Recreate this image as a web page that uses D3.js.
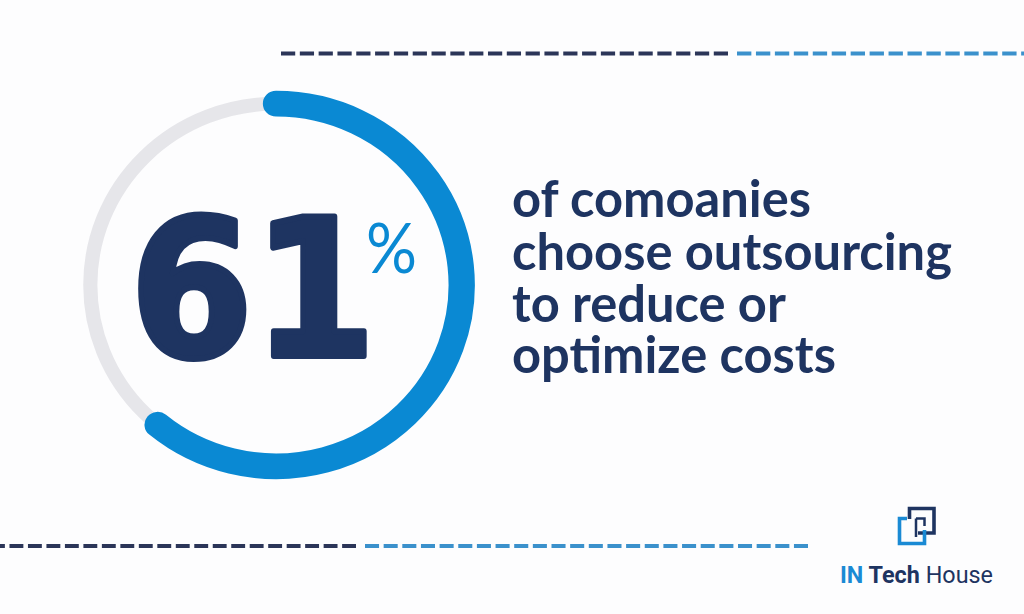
<!DOCTYPE html>
<html>
<head>
<meta charset="utf-8">
<script src="https://cdn.jsdelivr.net/npm/d3@7"></script>
<style>
  html, body { margin: 0; padding: 0; background: #fdfdfe; }
  svg { display: block; }
</style>
</head>
<body>
<svg id="chart" width="1024" height="614"></svg>
<script>
// ---- data ----
const categories = ["choose outsourcing to reduce or optimize costs", "other"];
const values = [61, 39];
const headline = "61";
const headlineUnit = "%";
const captionLines = ["of comoanies", "choose outsourcing", "to reduce or", "optimize costs"];
const brandParts = ["IN", "Tech", "House"];

// ---- styles ----
const NAVY = "#1e3461";
const BLUE = "#0a89d3";
const TRACK = "#e6e6ea";
const DASH_DARK = "#2b3558";
const DASH_BLUE = "#3b91cc";

const svg = d3.select("#chart");
svg.append("rect").attr("width", 1024).attr("height", 614).attr("fill", "#fdfdfe");

// ---- dashed rules (whole dashes between x1 and x2) ----
function dashed(x1, x2, y, color, n) {
  const gap = 4.6;
  const period = (x2 - x1 + gap) / n;
  svg.append("line")
    .attr("x1", x1).attr("x2", x2).attr("y1", y).attr("y2", y)
    .attr("stroke", color).attr("stroke-width", 4)
    .attr("stroke-dasharray", `${period - gap} ${gap}`);
}
dashed(281, 728, 53.5, DASH_DARK, 24);
dashed(737, 1035.5, 53.5, DASH_BLUE, 16);
dashed(-9, 356, 546, DASH_DARK, 20);
dashed(365, 808, 546, DASH_BLUE, 24);

// ---- donut ----
const cx = 276, cy = 285, r = 183.5;
const pie = d3.pie().sort(null).value(d => d)(values);
const g = svg.append("g")
  .attr("transform", `translate(${cx},${cy}) scale(1.012,0.988)`);

const track = d3.path();
track.arc(0, 0, r, 0, Math.PI * 2);
g.append("path").attr("d", track.toString())
  .attr("fill", "none").attr("stroke", TRACK).attr("stroke-width", 14);

const s = pie[0];
const p = d3.path();
p.moveTo(r * Math.sin(s.startAngle), -r * Math.cos(s.startAngle));
p.arc(0, 0, r, s.startAngle - Math.PI / 2, s.endAngle - Math.PI / 2);
g.append("path").attr("d", p.toString())
  .attr("fill", "none").attr("stroke", BLUE).attr("stroke-width", 26)
  .attr("stroke-linecap", "round");

// ---- big number ----
svg.append("text")
  .attr("x", 130).attr("y", 356)
  .attr("font-family", "DejaVu Sans")
  .attr("font-weight", "bold")
  .attr("font-size", 190)
  .attr("fill", NAVY)
  .attr("stroke", NAVY).attr("stroke-width", 6).attr("stroke-linejoin", "round")
  .attr("textLength", 246).attr("lengthAdjust", "spacingAndGlyphs")
  .text(headline);

svg.append("text")
  .attr("x", 366).attr("y", 273)
  .attr("font-family", "Lato")
  .attr("font-size", 70)
  .attr("fill", BLUE)
  .attr("textLength", 51).attr("lengthAdjust", "spacingAndGlyphs")
  .text(headlineUnit);

// ---- caption ----
const cap = svg.append("g");
const baselines = [217, 269.5, 321.5, 373];
captionLines.forEach((t, i) => {
  cap.append("text")
    .attr("x", 512).attr("y", baselines[i])
    .attr("font-family", "Lato")
    .attr("font-weight", "bold")
    .attr("font-size", 50)
    .attr("fill", NAVY)
    .text(t);
});
const widest = cap.selectAll("text").nodes()[1];
const w = widest.getComputedTextLength();
cap.selectAll("text").attr("font-size", 50 * 440 / w);

// ---- brand ----
const logo = svg.append("g").attr("fill", "none").attr("stroke-width", 3.6);
logo.append("path")
  .attr("d", "M909.5,519 V508.5 H934 V533 H918")
  .attr("stroke", "#1e3461");
logo.append("path")
  .attr("d", "M907,518.5 H899.5 V543.5 H924.5 V530")
  .attr("stroke", "#1a8ad4");
logo.append("path")
  .attr("d", "M916,518.5 H924.5 V526 M916,518.5 V537")
  .attr("stroke", "#1e3461").attr("stroke-width", 2.5);

const brand = svg.append("text")
  .attr("x", 840).attr("y", 582.5)
  .attr("font-family", "Roboto")
  .attr("font-size", 23)
  .attr("textLength", 153).attr("lengthAdjust", "spacingAndGlyphs");
brand.append("tspan").attr("font-weight", "bold").attr("fill", "#1a8ad4").text(brandParts[0] + " ");
brand.append("tspan").attr("font-weight", "bold").attr("fill", NAVY).text(brandParts[1] + " ");
brand.append("tspan").attr("font-weight", "normal").attr("fill", NAVY).text(brandParts[2]);
</script>
</body>
</html>
